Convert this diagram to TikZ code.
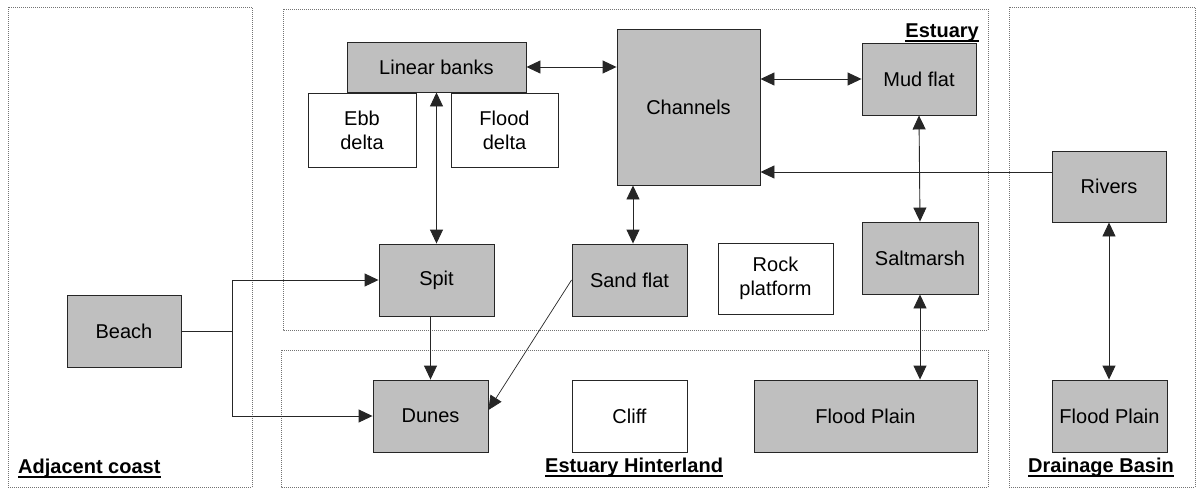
\documentclass[tikz,border=0pt]{standalone}
\usepackage{fontspec}
\setmainfont{Liberation Sans}
\usetikzlibrary{arrows.meta,calc}
\begin{document}
\begin{tikzpicture}[x=1pt,y=-1pt,
  every node/.style={font=\fontsize{20}{24}\selectfont},
  region/.style={draw=black!55, line width=0.8pt, dash pattern=on 1pt off 1pt},
  gbox/.style={draw=black!85, fill=black!25, line width=0.9pt, inner sep=0pt, align=center},
  wbox/.style={draw=black!85, fill=white, line width=0.9pt, inner sep=0pt, align=center},
  conn/.style={draw=black!85, line width=0.9pt},
  tip/.style={-{Triangle[length=14pt,width=13pt]}},
  dtip/.style={{Triangle[length=14pt,width=13pt]}-{Triangle[length=14pt,width=13pt]}},
  lbl/.style={font=\fontsize{20}{24}\selectfont\bfseries, inner sep=0pt},
  uline/.style={line width=2pt}
]
\useasboundingbox (0,0) rectangle (1202,488);
% regions
\draw[region] (8,7) rectangle (252,487);
\draw[region] (283,9) rectangle (988,330);
\draw[region] (281,350) rectangle (988,487);
\draw[region] (1009,7) rectangle (1195,487);
% nodes
\node[gbox, minimum width=179pt, minimum height=50pt] (lb) at (436.5,67) {Linear banks};
\node[wbox, minimum width=108pt, minimum height=74pt] (ebb) at (362,130) {Ebb\\delta};
\node[wbox, minimum width=107pt, minimum height=74pt] (fld) at (504.5,130) {Flood\\delta};
\node[gbox, minimum width=143pt, minimum height=156pt] (ch) at (688.5,107) {Channels};
\node[gbox, minimum width=114pt, minimum height=72pt] (mf) at (919,79) {Mud flat};
\node[gbox, minimum width=114pt, minimum height=71pt] (rv) at (1109,186.5) {Rivers};
\node[gbox, minimum width=116pt, minimum height=72pt] (sm) at (920,258) {Saltmarsh};
\node[gbox, minimum width=115pt, minimum height=72pt] (sp) at (436.5,280) {Spit};
\node[gbox, minimum width=115pt, minimum height=72pt] (sf) at (629.5,280) {Sand flat};
\node[wbox, minimum width=115pt, minimum height=71pt] (rp) at (775.5,278.5) {Rock\\platform};
\node[gbox, minimum width=114pt, minimum height=72pt] (bc) at (124,331) {Beach};
\node[gbox, minimum width=115pt, minimum height=72pt] (dn) at (430.5,416) {Dunes};
\node[wbox, minimum width=115pt, minimum height=72pt] (cl) at (629.5,416) {Cliff};
\node[gbox, minimum width=223pt, minimum height=72pt] (fp) at (865.5,416) {Flood Plain};
\node[gbox, minimum width=115pt, minimum height=72pt] (fp2) at (1109.5,416) {Flood Plain};
% labels
\node[lbl, anchor=base east] (lest) at (979,37) {Estuary};
\node[lbl, anchor=base west] (ladj) at (18,473) {Adjacent coast};
\node[lbl, anchor=base west] (lhin) at (545,472) {Estuary Hinterland};
\node[lbl, anchor=base west] (ldra) at (1028,472) {Drainage Basin};
\foreach \l in {lest,ladj,lhin,ldra}{
  \draw[uline] ([yshift=-3.5pt]\l.base west) -- ([yshift=-3.5pt]\l.base east);
}
% connectors
\draw[conn,dtip] (lb.east) -- (lb.east -| ch.west);
\draw[conn,dtip] (lb.south) -- (sp.north);
\draw[conn,dtip] (mf.west -| ch.east) -- (mf.west);
\draw[conn,tip] ([yshift=14.5pt]rv.west) -- ([yshift=14.5pt]rv.west -| ch.east);
\draw[conn,dtip] ([xshift=3.5pt]sf.north |- ch.south) -- ([xshift=3.5pt]sf.north);
\draw[conn,dtip] (mf.south) -- (sm.north);
\draw[conn,dtip] (sm.south) -- (sm.south |- fp.north);
\draw[conn,dtip] (rv.south) -- (rv.south |- fp2.north);
\coordinate (jn) at (232,331);
\draw[conn] (bc.east) -- (jn);
\draw[conn,tip] (jn) |- (sp.west);
\draw[conn,tip] (jn) |- (dn.west);
\draw[conn,tip] (sp.south -| dn.north) -- (dn.north);
\draw[draw=black!85, line width=0.7pt, tip] (sf.west) -- ([yshift=6pt]dn.east);
\end{tikzpicture}
\end{document}
